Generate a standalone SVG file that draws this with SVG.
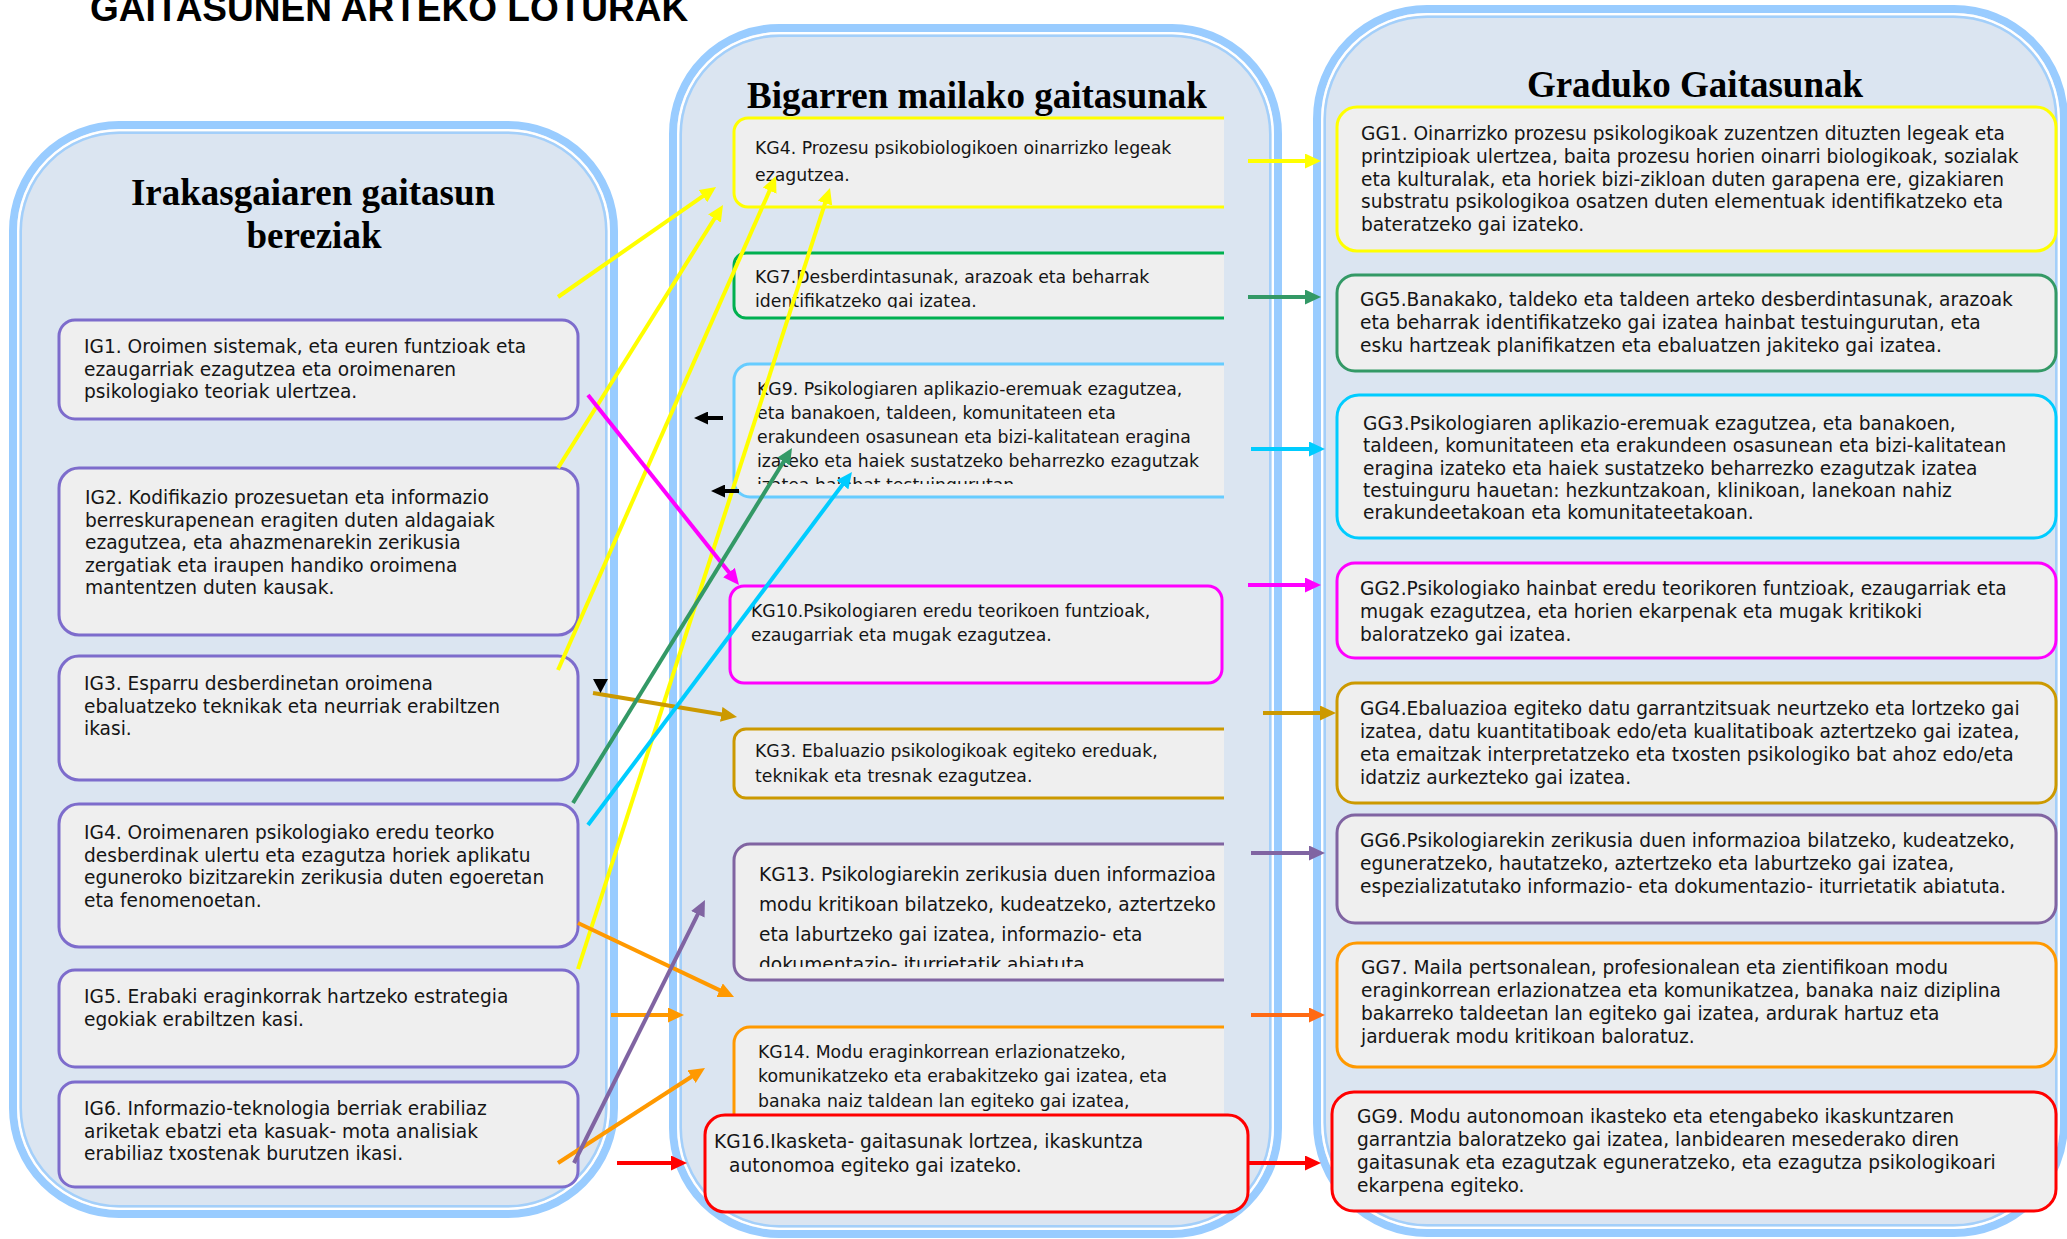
<svg xmlns="http://www.w3.org/2000/svg" width="2067" height="1239" viewBox="0 0 2067 1239">
<style>
.pO{fill:#dbe5f1;stroke:#99ccff;stroke-width:8}
.pW{fill:none;stroke:#ffffff;stroke-width:2.5}
.pI{fill:none;stroke:#a3cffa;stroke-width:2.5}
.box{fill:#efefef;stroke-width:3}
.ig{stroke:#7d6ccc}
.t{font-family:"DejaVu Sans",Verdana,sans-serif;font-size:18.6px;fill:#151515}
.tk{font-size:17.3px}
.h{font-family:"Liberation Serif","Times New Roman",serif;font-weight:bold;font-size:37px;text-anchor:middle;fill:#000}
.c{fill:none;stroke-width:4}
</style>
<defs>
<clipPath id="cR"><rect x="0" y="0" width="1224" height="1239"/></clipPath>
<clipPath id="cKG7"><rect x="0" y="0" width="1224" height="308"/></clipPath>
<clipPath id="cKG9"><rect x="0" y="0" width="1224" height="484"/></clipPath>
<clipPath id="cKG13"><rect x="0" y="0" width="1224" height="967"/></clipPath>
<marker id="mY" viewBox="0 0 16 15" refX="4" refY="7.5" markerWidth="16" markerHeight="15" markerUnits="userSpaceOnUse" orient="auto"><path d="M0,0L16,7.5L0,15z" fill="#ffff00"/></marker>
<marker id="mM" viewBox="0 0 16 15" refX="4" refY="7.5" markerWidth="16" markerHeight="15" markerUnits="userSpaceOnUse" orient="auto"><path d="M0,0L16,7.5L0,15z" fill="#ff00ff"/></marker>
<marker id="mGo" viewBox="0 0 16 15" refX="4" refY="7.5" markerWidth="16" markerHeight="15" markerUnits="userSpaceOnUse" orient="auto"><path d="M0,0L16,7.5L0,15z" fill="#cc9900"/></marker>
<marker id="mGr" viewBox="0 0 16 15" refX="4" refY="7.5" markerWidth="16" markerHeight="15" markerUnits="userSpaceOnUse" orient="auto"><path d="M0,0L16,7.5L0,15z" fill="#339966"/></marker>
<marker id="mC" viewBox="0 0 16 15" refX="4" refY="7.5" markerWidth="16" markerHeight="15" markerUnits="userSpaceOnUse" orient="auto"><path d="M0,0L16,7.5L0,15z" fill="#00ccff"/></marker>
<marker id="mO" viewBox="0 0 16 15" refX="4" refY="7.5" markerWidth="16" markerHeight="15" markerUnits="userSpaceOnUse" orient="auto"><path d="M0,0L16,7.5L0,15z" fill="#ff9900"/></marker>
<marker id="mO2" viewBox="0 0 16 15" refX="4" refY="7.5" markerWidth="16" markerHeight="15" markerUnits="userSpaceOnUse" orient="auto"><path d="M0,0L16,7.5L0,15z" fill="#ff6a13"/></marker>
<marker id="mP" viewBox="0 0 16 15" refX="4" refY="7.5" markerWidth="16" markerHeight="15" markerUnits="userSpaceOnUse" orient="auto"><path d="M0,0L16,7.5L0,15z" fill="#8064a2"/></marker>
<marker id="mR" viewBox="0 0 16 15" refX="4" refY="7.5" markerWidth="16" markerHeight="15" markerUnits="userSpaceOnUse" orient="auto"><path d="M0,0L16,7.5L0,15z" fill="#ff0000"/></marker>
<marker id="mB" viewBox="0 0 14 13" refX="3" refY="6.5" markerWidth="14" markerHeight="13" markerUnits="userSpaceOnUse" orient="auto"><path d="M0,0L14,6.5L0,13z" fill="#000"/></marker>
</defs>
<rect x="0" y="0" width="2067" height="1239" fill="#ffffff"/>

<text x="90" y="21" font-family="'Liberation Sans',Arial,sans-serif" font-weight="bold" font-size="37" fill="#000">GAITASUNEN ARTEKO LOTURAK</text>

<g id="panel-left">
<rect class="pO" x="13" y="125" width="601" height="1089" rx="106"/>
<rect class="pW" x="18.25" y="130.25" width="590.5" height="1078.5" rx="101"/>
<rect class="pI" x="20.75" y="132.75" width="585.5" height="1073.5" rx="98.5"/>
<text class="h" x="313" y="205">Irakasgaiaren gaitasun</text>
<text class="h" x="314" y="248">bereziak</text>
</g>
<g id="panel-middle">
<rect class="pO" x="673" y="28" width="605" height="1206" rx="106"/>
<rect class="pW" x="678.25" y="33.25" width="594.5" height="1195.5" rx="101"/>
<rect class="pI" x="680.75" y="35.75" width="589.5" height="1190.5" rx="98.5"/>
<text class="h" x="977" y="108">Bigarren mailako gaitasunak</text>
</g>
<g id="panel-right">
<rect class="pO" x="1317" y="9" width="747" height="1224" rx="110"/>
<rect class="pW" x="1322.25" y="14.25" width="736.5" height="1213.5" rx="105"/>
<rect class="pI" x="1324.75" y="16.75" width="731.5" height="1208.5" rx="102.5"/>
<text class="h" x="1695" y="97">Graduko Gaitasunak</text>
</g>

<g id="IG1">
<rect class="box ig" x="59" y="320" width="519" height="99" rx="16"/>
<text class="t"><tspan x="84" y="353">IG1. Oroimen sistemak, eta euren funtzioak eta</tspan><tspan x="84" y="375.5">ezaugarriak ezagutzea eta oroimenaren</tspan><tspan x="84" y="398">psikologiako teoriak ulertzea.</tspan></text>
</g>
<g id="IG2">
<rect class="box ig" x="59" y="468" width="519" height="167" rx="20"/>
<text class="t"><tspan x="85" y="504">IG2. Kodifikazio prozesuetan eta informazio</tspan><tspan x="85" y="526.6">berreskurapenean eragiten duten aldagaiak</tspan><tspan x="85" y="549.2">ezagutzea, eta ahazmenarekin zerikusia</tspan><tspan x="85" y="571.8">zergatiak eta iraupen handiko oroimena</tspan><tspan x="85" y="594.4">mantentzen duten kausak.</tspan></text>
</g>
<g id="IG3">
<rect class="box ig" x="59" y="656" width="519" height="124" rx="20"/>
<text class="t"><tspan x="84" y="690">IG3. Esparru desberdinetan oroimena</tspan><tspan x="84" y="712.6">ebaluatzeko teknikak eta neurriak  erabiltzen</tspan><tspan x="84" y="735.2">ikasi.</tspan></text>
</g>
<g id="IG4">
<rect class="box ig" x="59" y="804" width="519" height="143" rx="20"/>
<text class="t"><tspan x="84" y="839">IG4. Oroimenaren psikologiako eredu teorko</tspan><tspan x="84" y="861.6">desberdinak ulertu eta ezagutza horiek aplikatu</tspan><tspan x="84" y="884.2">eguneroko bizitzarekin zerikusia duten egoeretan</tspan><tspan x="84" y="906.8">eta fenomenoetan.</tspan></text>
</g>
<g id="IG5">
<rect class="box ig" x="59" y="970" width="519" height="97" rx="16"/>
<text class="t"><tspan x="84" y="1003">IG5. Erabaki eraginkorrak hartzeko estrategia</tspan><tspan x="84" y="1025.6">egokiak erabiltzen kasi.</tspan></text>
</g>
<g id="IG6">
<rect class="box ig" x="59" y="1082" width="519" height="105" rx="16"/>
<text class="t"><tspan x="84" y="1115">IG6. Informazio-teknologia berriak erabiliaz</tspan><tspan x="84" y="1137.6">ariketak ebatzi eta kasuak- mota analisiak</tspan><tspan x="84" y="1160.2">erabiliaz txostenak burutzen ikasi.</tspan></text>
</g>

<g id="KG4">
<rect class="box" clip-path="url(#cR)" stroke="#ffff00" x="734" y="118" width="506" height="89" rx="14"/>
<text class="t tk"><tspan x="755" y="154">KG4. Prozesu psikobiologikoen oinarrizko legeak</tspan><tspan x="755" y="181">ezagutzea.</tspan></text>
</g>
<g id="KG7">
<rect class="box" clip-path="url(#cR)" stroke="#00b050" x="734" y="253" width="506" height="65" rx="12"/>
<text class="t tk" clip-path="url(#cKG7)"><tspan x="755" y="283">KG7.Desberdintasunak, arazoak eta beharrak</tspan><tspan x="755" y="306.5">identifikatzeko gai izatea.</tspan></text>
</g>
<g id="KG9">
<rect class="box" clip-path="url(#cR)" stroke="#66ccff" x="734" y="364" width="506" height="133" rx="16"/>
<text class="t tk" clip-path="url(#cKG9)"><tspan x="757" y="395">KG9. Psikologiaren aplikazio-eremuak ezagutzea,</tspan><tspan x="757" y="419">eta banakoen, taldeen, komunitateen eta</tspan><tspan x="757" y="443">erakundeen osasunean eta bizi-kalitatean eragina</tspan><tspan x="757" y="467">izateko eta haiek sustatzeko beharrezko ezagutzak</tspan><tspan x="757" y="491">izatea hainbat testuingurutan.</tspan></text>
</g>
<g id="KG10">
<rect class="box" stroke="#ff00ff" x="730" y="586" width="492" height="97" rx="14"/>
<text class="t tk"><tspan x="751" y="617">KG10.Psikologiaren eredu teorikoen funtzioak,</tspan><tspan x="751" y="641">ezaugarriak eta mugak ezagutzea.</tspan></text>
</g>
<g id="KG3">
<rect class="box" clip-path="url(#cR)" stroke="#cc9900" x="734" y="729" width="506" height="69" rx="12"/>
<text class="t tk"><tspan x="755" y="757">KG3. Ebaluazio psikologikoak egiteko ereduak,</tspan><tspan x="755" y="782">teknikak eta tresnak ezagutzea.</tspan></text>
</g>
<g id="KG13">
<rect class="box" clip-path="url(#cR)" stroke="#8064a2" x="734" y="844" width="506" height="136" rx="16"/>
<text class="t" font-size="19.2" clip-path="url(#cKG13)"><tspan x="759" y="881">KG13. Psikologiarekin zerikusia duen informazioa</tspan><tspan x="759" y="911">modu kritikoan bilatzeko, kudeatzeko, aztertzeko</tspan><tspan x="759" y="941">eta laburtzeko gai izatea, informazio- eta</tspan><tspan x="759" y="971">dokumentazio- iturrietatik abiatuta.</tspan></text>
</g>
<g id="KG14">
<rect class="box" clip-path="url(#cR)" stroke="#ff9900" x="734" y="1027" width="506" height="120" rx="16"/>
<text class="t tk"><tspan x="758" y="1058">KG14. Modu eraginkorrean erlazionatzeko,</tspan><tspan x="758" y="1082">komunikatzeko eta erabakitzeko gai izatea, eta</tspan><tspan x="758" y="1107">banaka naiz taldean lan egiteko gai izatea,</tspan></text>
</g>
<g id="KG16">
<rect class="box" stroke="#ff0000" x="705" y="1115" width="543" height="97" rx="20"/>
<text class="t" font-size="18.9"><tspan x="714" y="1148">KG16.Ikasketa- gaitasunak lortzea, ikaskuntza</tspan><tspan x="729" y="1172">autonomoa egiteko gai izateko.</tspan></text>
</g>

<g id="GG1">
<rect class="box" stroke="#ffff00" x="1337" y="107" width="719" height="144" rx="20"/>
<text class="t"><tspan x="1361" y="140">GG1. Oinarrizko prozesu psikologikoak zuzentzen dituzten legeak eta</tspan><tspan x="1361" y="162.8">printzipioak ulertzea, baita prozesu horien oinarri biologikoak, sozialak</tspan><tspan x="1361" y="185.6">eta kulturalak, eta horiek bizi-zikloan duten garapena ere, gizakiaren</tspan><tspan x="1361" y="208.4">substratu psikologikoa osatzen duten elementuak identifikatzeko eta</tspan><tspan x="1361" y="231.2">bateratzeko gai izateko.</tspan></text>
</g>
<g id="GG5">
<rect class="box" stroke="#339966" x="1337" y="275" width="719" height="96" rx="18"/>
<text class="t"><tspan x="1360" y="306">GG5.Banakako, taldeko eta taldeen arteko desberdintasunak, arazoak</tspan><tspan x="1360" y="328.8">eta beharrak identifikatzeko gai izatea hainbat testuingurutan, eta</tspan><tspan x="1360" y="351.6">esku hartzeak planifikatzen eta ebaluatzen jakiteko gai izatea.</tspan></text>
</g>
<g id="GG3">
<rect class="box" stroke="#00ccff" x="1337" y="395" width="719" height="143" rx="22"/>
<text class="t"><tspan x="1363" y="430">GG3.Psikologiaren aplikazio-eremuak ezagutzea, eta banakoen,</tspan><tspan x="1363" y="452.3">taldeen, komunitateen eta erakundeen osasunean eta bizi-kalitatean</tspan><tspan x="1363" y="474.6">eragina izateko eta haiek sustatzeko beharrezko ezagutzak izatea</tspan><tspan x="1363" y="496.9">testuinguru hauetan: hezkuntzakoan, klinikoan, lanekoan nahiz</tspan><tspan x="1363" y="519.2">erakundeetakoan eta komunitateetakoan.</tspan></text>
</g>
<g id="GG2">
<rect class="box" stroke="#ff00ff" x="1337" y="563" width="719" height="95" rx="18"/>
<text class="t"><tspan x="1360" y="595">GG2.Psikologiako hainbat eredu teorikoren funtzioak, ezaugarriak eta</tspan><tspan x="1360" y="618">mugak ezagutzea, eta horien ekarpenak eta mugak kritikoki</tspan><tspan x="1360" y="641">baloratzeko gai izatea.</tspan></text>
</g>
<g id="GG4">
<rect class="box" stroke="#cc9900" x="1337" y="683" width="719" height="120" rx="18"/>
<text class="t"><tspan x="1360" y="715">GG4.Ebaluazioa egiteko datu garrantzitsuak neurtzeko eta lortzeko gai</tspan><tspan x="1360" y="738">izatea, datu kuantitatiboak edo/eta kualitatiboak aztertzeko gai izatea,</tspan><tspan x="1360" y="761">eta emaitzak interpretatzeko eta txosten psikologiko bat ahoz edo/eta</tspan><tspan x="1360" y="784">idatziz aurkezteko gai izatea.</tspan></text>
</g>
<g id="GG6">
<rect class="box" stroke="#8064a2" x="1337" y="815" width="719" height="108" rx="18"/>
<text class="t"><tspan x="1360" y="847">GG6.Psikologiarekin zerikusia duen informazioa bilatzeko, kudeatzeko,</tspan><tspan x="1360" y="870">eguneratzeko, hautatzeko, aztertzeko eta laburtzeko gai izatea,</tspan><tspan x="1360" y="893">espezializatutako informazio- eta dokumentazio- iturrietatik abiatuta.</tspan></text>
</g>
<g id="GG7">
<rect class="box" stroke="#ff9900" x="1337" y="943" width="719" height="124" rx="20"/>
<text class="t"><tspan x="1361" y="974">GG7. Maila pertsonalean, profesionalean eta zientifikoan modu</tspan><tspan x="1361" y="997">eraginkorrean erlazionatzea eta komunikatzea, banaka naiz diziplina</tspan><tspan x="1361" y="1020">bakarreko taldeetan lan egiteko gai izatea, ardurak hartuz eta</tspan><tspan x="1361" y="1043">jarduerak modu kritikoan baloratuz.</tspan></text>
</g>
<g id="GG9">
<rect class="box" stroke="#ff0000" x="1332" y="1092" width="724" height="119" rx="22"/>
<text class="t"><tspan x="1357" y="1123">GG9. Modu autonomoan ikasteko eta etengabeko ikaskuntzaren</tspan><tspan x="1357" y="1146">garrantzia baloratzeko gai izatea, lanbidearen mesederako diren</tspan><tspan x="1357" y="1169">gaitasunak eta ezagutzak eguneratzeko, eta ezagutza psikologikoari</tspan><tspan x="1357" y="1192">ekarpena egiteko.</tspan></text>
</g>

<g id="connectors">
<line class="c" stroke="#ffff00" x1="558" y1="297" x2="706.2" y2="193.9" marker-end="url(#mY)"/>
<line class="c" stroke="#ffff00" x1="558" y1="468" x2="716.6" y2="215.2" marker-end="url(#mY)"/>
<line class="c" stroke="#ffff00" x1="558" y1="670" x2="771.2" y2="187" marker-end="url(#mY)"/>
<line class="c" stroke="#ffff00" x1="578" y1="969" x2="826.3" y2="199.4" marker-end="url(#mY)"/>
<line class="c" stroke="#ff00ff" x1="588" y1="395" x2="731.5" y2="575.6" marker-end="url(#mM)"/>
<line class="c" stroke="#cc9900" x1="593" y1="693" x2="725.2" y2="715" marker-end="url(#mGo)"/>
<line class="c" stroke="#339966" x1="573" y1="803" x2="785.7" y2="458.2" marker-end="url(#mGr)"/>
<line class="c" stroke="#00ccff" x1="588" y1="825" x2="844.8" y2="481.6" marker-end="url(#mC)"/>
<line class="c" stroke="#ff9900" x1="578" y1="923" x2="723.2" y2="991.9" marker-end="url(#mO)"/>
<line class="c" stroke="#ff9900" x1="611" y1="1015" x2="672" y2="1015" marker-end="url(#mO)"/>
<line class="c" stroke="#ff9900" x1="558" y1="1163" x2="694.9" y2="1074.5" marker-end="url(#mO)"/>
<line class="c" stroke="#8064a2" x1="574" y1="1163" x2="699.6" y2="910.7" marker-end="url(#mP)"/>
<line class="c" stroke="#ff0000" x1="617" y1="1163" x2="675" y2="1163" marker-end="url(#mR)"/>
<line class="c" stroke="#000" stroke-width="2.5" x1="723" y1="418" x2="705" y2="418" marker-end="url(#mB)"/>
<line class="c" stroke="#000" stroke-width="2.5" x1="739" y1="491" x2="722" y2="491" marker-end="url(#mB)"/>
<polygon points="593,679 608,679 600.5,693" fill="#000"/>
<line class="c" stroke="#ffff00" x1="1248" y1="161" x2="1309" y2="161" marker-end="url(#mY)"/>
<line class="c" stroke="#339966" x1="1248" y1="297" x2="1309" y2="297" marker-end="url(#mGr)"/>
<line class="c" stroke="#00ccff" x1="1251" y1="449" x2="1313" y2="449" marker-end="url(#mC)"/>
<line class="c" stroke="#ff00ff" x1="1248" y1="585" x2="1309" y2="585" marker-end="url(#mM)"/>
<line class="c" stroke="#cc9900" x1="1263" y1="713" x2="1324" y2="713" marker-end="url(#mGo)"/>
<line class="c" stroke="#8064a2" x1="1251" y1="853" x2="1313" y2="853" marker-end="url(#mP)"/>
<line class="c" stroke="#ff6a13" x1="1251" y1="1015" x2="1313" y2="1015" marker-end="url(#mO2)"/>
<line class="c" stroke="#ff0000" x1="1248" y1="1163" x2="1309" y2="1163" marker-end="url(#mR)"/>
</g>
</svg>
